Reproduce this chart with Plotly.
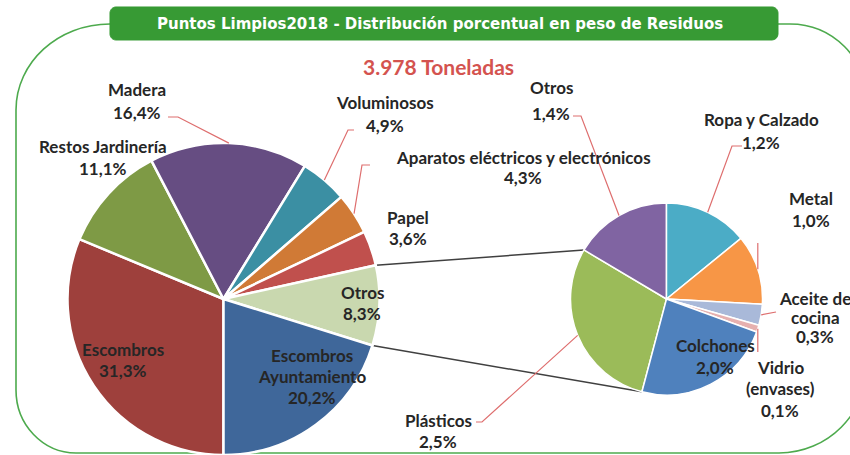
import math
import plotly.graph_objects as go

# ---------------- data ----------------
TITLE = "Puntos Limpios2018 - Distribución porcentual en peso de Residuos"
TOTAL_TEXT = "3.978 Toneladas"

MAIN_LABELS = ["Escombros", "Restos Jardinería", "Madera", "Voluminosos",
               "Aparatos eléctricos y electrónicos", "Papel", "Otros",
               "Escombros Ayuntamiento"]
MAIN_VALUES = [31.3, 11.1, 16.4, 4.9, 4.3, 3.6, 8.3, 20.2]

SUB_LABELS = ["Plásticos", "Otros", "Ropa y Calzado", "Metal",
              "Aceite de cocina", "Vidrio (envases)", "Colchones"]
SUB_VALUES = [2.5, 1.4, 1.2, 1.0, 0.3, 0.1, 2.0]

# ---------------- style / layout ----------------
W, H = 850, 455
MAIN_COLORS = ["#9E403C", "#7E9A45", "#664D82", "#3B8FA3", "#D07A36",
               "#C0504D", "#C9D8AF", "#3F679A"]
SUB_COLORS = ["#9BBB59", "#8064A2", "#4BACC6", "#F79646", "#A9B9D9",
              "#E6B0AF", "#4F81BD"]
FONT = "Lato"
LABEL_SIZE = 17
TXT = "#262626"
LEADER = "#DE6E6E"

MAIN_C, MAIN_R = (223.5, 299.0), 156.0
SUB_C, SUB_R = (666.5, 299.0), 96.0

# word index after which a label is broken onto a new line
BREAKS = {"Escombros Ayuntamiento": 1, "Aceite de cocina": 2, "Vidrio (envases)": 1}

# label placement (x centre, y of first line, line step) in pixels
MAIN_POS = {
    "Escombros": (123, 349, 21),
    "Restos Jardinería": (103, 147, 21),
    "Madera": (137, 90, 22),
    "Voluminosos": (385, 103, 22),
    "Aparatos eléctricos y electrónicos": (523, 157, 21),
    "Papel": (408, 217, 21),
    "Otros": (362, 292, 21),
    "Escombros Ayuntamiento": (312, 355, 21),
}
SUB_POS = {
    "Plásticos": (438, 420, 21),
    "Otros": (551, 87, 26),
    "Ropa y Calzado": (761, 120, 22),
    "Metal": (811, 198, 22),
    "Aceite de cocina": (815, 298, 19),
    "Vidrio (envases)": (780, 367, 21.5),
    "Colchones": (715, 345, 22),
}
# leader waypoints (pixels) from the label towards the slice
MAIN_LEADERS = {
    "Madera": [(168, 117), (178, 117)],
    "Voluminosos": [(354, 130), (348, 130)],
    "Aparatos eléctricos y electrónicos": [(370, 165), (362, 165)],
}
SUB_LEADERS = {
    "Otros": [(573, 116), (581, 116)],
    "Ropa y Calzado": [(742, 146), (732, 146)],
    "Metal": [("v", 243)],
    "Aceite de cocina": [(776, 312)],
    "Vidrio (envases)": [("v", 352)],
    "Plásticos": [(476, 422), (482, 422)],
}


def fmt_pct(v):
    return f"{v:.1f}".replace(".", ",") + "%"


def P(x, y):
    return x / W, 1 - y / H


def pt(c, r, ang):
    a = math.radians(ang)
    return c[0] + r * math.sin(a), c[1] - r * math.cos(a)


def slice_angles(values, rot):
    tot = sum(values)
    out, cum = [], 0.0
    for v in values:
        a0 = rot + 360 * cum / tot
        cum += v
        a1 = rot + 360 * cum / tot
        out.append((a0, a1))
    return out


def path_from_px(points):
    s = ""
    for i, (x, y) in enumerate(points):
        fx, fy = P(x, y)
        s += ("M" if i == 0 else " L") + f"{fx:.5f},{fy:.5f}"
    return s


def rounded_rect(l, t, r, b, radii):
    (tlx, tly), (trx, try_), (brx, bry), (blx, bly) = radii
    k = 0.5523

    def f(x, y):
        fx, fy = P(x, y)
        return f"{fx:.5f},{fy:.5f}"

    s = f"M{f(l + tlx, t)} L{f(r - trx, t)}"
    s += f" C{f(r - trx + k * trx, t)} {f(r, t + try_ - k * try_)} {f(r, t + try_)}"
    s += f" L{f(r, b - bry)}"
    s += f" C{f(r, b - bry + k * bry)} {f(r - brx + k * brx, b)} {f(r - brx, b)}"
    s += f" L{f(l + blx, b)}"
    s += f" C{f(l + blx - k * blx, b)} {f(l, b - bly + k * bly)} {f(l, b - bly)}"
    s += f" L{f(l, t + tly)}"
    s += f" C{f(l, t + tly - k * tly)} {f(l + tlx - k * tlx, t)} {f(l + tlx, t)} Z"
    return s


def split_label(lab):
    words = lab.split(" ")
    if lab in BREAKS:
        n = BREAKS[lab]
        return [" ".join(words[:n]), " ".join(words[n:])]
    return [lab]


def domain(c, r):
    x0, y1 = P(c[0] - r, c[1] - r)
    x1, y0 = P(c[0] + r, c[1] + r)
    return dict(x=[max(0, x0), min(1, x1)], y=[max(0, y0), min(1, y1)])


main_rot = 180.0
sub_tot = sum(SUB_VALUES)
sub_rot = 360.0 - 360.0 * (SUB_VALUES[0] + SUB_VALUES[1]) / sub_tot

fig = go.Figure()
fig.add_trace(go.Pie(
    labels=MAIN_LABELS, values=MAIN_VALUES, sort=False, direction="clockwise",
    rotation=main_rot, textinfo="none", showlegend=False,
    marker=dict(colors=MAIN_COLORS, line=dict(color="white", width=2.5)),
    domain=domain(MAIN_C, MAIN_R), hoverinfo="label+value"))
fig.add_trace(go.Pie(
    labels=SUB_LABELS, values=SUB_VALUES, sort=False, direction="clockwise",
    rotation=sub_rot, textinfo="none", showlegend=False,
    marker=dict(colors=SUB_COLORS, line=dict(color="white", width=1.5)),
    domain=domain(SUB_C, SUB_R), hoverinfo="label+value"))

shapes, annos = [], []

# frame and title box
shapes.append(dict(type="path", xref="paper", yref="paper", layer="below",
                   path=rounded_rect(16, 24, 867, 453,
                                     [(94, 86), (77, 77), (88, 88), (60, 63)]),
                   line=dict(color="#4DAA4D", width=1.6)))
shapes.append(dict(type="path", xref="paper", yref="paper", layer="above",
                   path=rounded_rect(110, 7, 778, 40, [(6, 6)] * 4),
                   fillcolor="#379A34", line=dict(color="#379A34", width=1)))
tx, ty = P(440, 23.5)
annos.append(dict(x=tx, y=ty, xref="paper", yref="paper", showarrow=False,
                  xanchor="center", yanchor="middle",
                  text=f"<b>{TITLE}</b>",
                  font=dict(family="DejaVu Sans", size=15, color="white")))
tx, ty = P(438, 66)
annos.append(dict(x=tx, y=ty, xref="paper", yref="paper", showarrow=False,
                  xanchor="center", yanchor="middle",
                  text=f"<b>{TOTAL_TEXT}</b>",
                  font=dict(family=FONT, size=21, color="#D4534F")))

main_ang = slice_angles(MAIN_VALUES, main_rot)
sub_ang = slice_angles(SUB_VALUES, sub_rot)

# connector lines between main "Otros" slice and the secondary pie
i_o = MAIN_LABELS.index("Otros")
for ma, sa in ((main_ang[i_o][0], sub_ang[0][1]), (main_ang[i_o][1], sub_ang[0][0])):
    shapes.append(dict(type="path", xref="paper", yref="paper", layer="below",
                       path=path_from_px([pt(MAIN_C, MAIN_R, ma), pt(SUB_C, SUB_R, sa)]),
                       line=dict(color="#404040", width=1.5)))


def add_labels(labels, values, pos, leaders, ang, c, r):
    for i, lab in enumerate(labels):
        x, y, step = pos[lab]
        lines = split_label(lab) + [fmt_pct(values[i])]
        for j, ln in enumerate(lines):
            ax, ay = P(x, y + j * step)
            annos.append(dict(x=ax, y=ay, xref="paper", yref="paper", showarrow=False,
                              text=f"<b>{ln}</b>", xanchor="center", yanchor="middle",
                              font=dict(family=FONT, size=LABEL_SIZE, color=TXT)))
        if lab in leaders:
            mid = (ang[i][0] + ang[i][1]) / 2
            end = pt(c, r, mid)
            pts = []
            for wp in leaders[lab]:
                if wp[0] == "v":
                    pts.append((end[0], wp[1]))
                else:
                    pts.append(wp)
            pts.append(end)
            shapes.append(dict(type="path", xref="paper", yref="paper", layer="above",
                               path=path_from_px(pts),
                               line=dict(color=LEADER, width=1.2)))


add_labels(MAIN_LABELS, MAIN_VALUES, MAIN_POS, MAIN_LEADERS, main_ang, MAIN_C, MAIN_R)
add_labels(SUB_LABELS, SUB_VALUES, SUB_POS, SUB_LEADERS, sub_ang, SUB_C, SUB_R)

fig.update_layout(width=W, height=H, margin=dict(l=0, r=0, t=0, b=0),
                  paper_bgcolor="white", plot_bgcolor="white",
                  shapes=shapes, annotations=annos)

fig.write_html("out.html", config={"displayModeBar": False},
               post_script="document.body.style.margin='0';")
